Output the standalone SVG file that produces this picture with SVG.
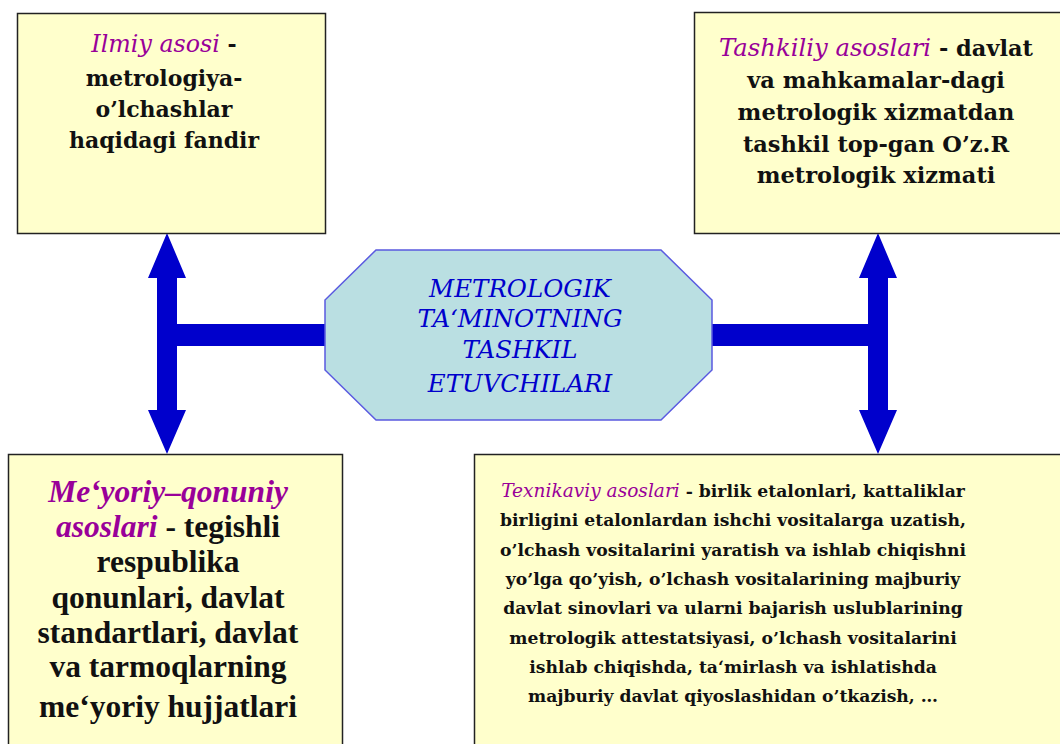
<svg xmlns="http://www.w3.org/2000/svg" width="1060" height="744" viewBox="0 0 1060 744">
  <style>
    .box { fill: #FFFFCC; stroke: #222222; stroke-width: 1.5; }
    .hub { fill: #BADFE2; stroke: #5A5AE0; stroke-width: 1.5; }
    .link { fill: #0000CC; }
    .t { font-family: "DejaVu Serif", "Liberation Serif", serif; font-weight: bold; fill: #111111; text-anchor: middle; }
    .tl { font-size: 22px; }
    .tr { font-size: 22.5px; }
    .br { font-size: 17.2px; }
    .bl { font-family: "Liberation Serif", "DejaVu Serif", serif; font-size: 31.5px; font-weight: bold; fill: #111111; text-anchor: middle; }
    .key { font-style: italic; font-weight: normal; fill: #990099; }
    .big { font-size: 1.08em; }
    .keyb { font-style: italic; font-weight: bold; fill: #990099; }
    .hubtext { font-family: "DejaVu Serif", "Liberation Serif", serif; font-style: italic; font-size: 24.5px; fill: #0000CC; text-anchor: middle; }
  </style>

  <!-- connectors: double-headed vertical arrows joined to the hub by horizontal bars -->
  <g id="connectors">
    <polygon class="link" points="167,233 186,278 177,278 177,410 186,410 167,454 148,410 157,410 157,278 148,278"/>
    <rect class="link" x="176" y="324" width="150" height="22"/>
    <polygon class="link" points="878,233 897,278 888,278 888,410 897,410 878,454 859,410 868,410 868,278 859,278"/>
    <rect class="link" x="711" y="324" width="158" height="22"/>
  </g>

  <!-- central hub -->
  <g id="hub">
    <polygon class="hub" points="376,250 661,250 712,300 712,370 661,420 376,420 325,370 325,300"/>
    <text class="hubtext" x="520" y="297">METROLOGIK</text>
    <text class="hubtext" x="520" y="327">TA‘MINOTNING</text>
    <text class="hubtext" x="520" y="358">TASHKIL</text>
    <text class="hubtext" x="520" y="392">ETUVCHILARI</text>
  </g>

  <!-- scientific basis -->
  <g id="ilmiy">
    <rect class="box" x="17.5" y="13.5" width="308" height="220"/>
    <text class="t tl" x="164" y="52"><tspan class="key big">Ilmiy asosi</tspan> -</text>
    <text class="t tl" x="164" y="86">metrologiya-</text>
    <text class="t tl" x="164" y="117">o’lchashlar</text>
    <text class="t tl" x="164" y="148">haqidagi fandir</text>
  </g>

  <!-- organisational basis -->
  <g id="tashkiliy">
    <rect class="box" x="694.5" y="12.5" width="370" height="221"/>
    <text class="t tr" x="876" y="56"><tspan class="key big">Tashkiliy asoslari</tspan> - davlat</text>
    <text class="t tr" x="876" y="88">va mahkamalar-dagi</text>
    <text class="t tr" x="876" y="120">metrologik xizmatdan</text>
    <text class="t tr" x="876" y="152">tashkil top-gan O’z.R</text>
    <text class="t tr" x="876" y="183">metrologik xizmati</text>
  </g>

  <!-- normative-legal basis -->
  <g id="meyoriy">
    <rect class="box" x="8.5" y="454.5" width="334" height="300"/>
    <text class="bl" x="168" y="502"><tspan class="keyb">Me‘yoriy–qonuniy</tspan></text>
    <text class="bl" x="168" y="537"><tspan class="keyb">asoslari</tspan> - tegishli</text>
    <text class="bl" x="168" y="572">respublika</text>
    <text class="bl" x="168" y="608">qonunlari, davlat</text>
    <text class="bl" x="168" y="643">standartlari, davlat</text>
    <text class="bl" x="168" y="677">va tarmoqlarning</text>
    <text class="bl" x="168" y="717">me‘yoriy hujjatlari</text>
  </g>

  <!-- technical basis -->
  <g id="texnikaviy">
    <rect class="box" x="474.5" y="454.5" width="600" height="300"/>
    <text class="t br" x="733" y="497"><tspan class="key big">Texnikaviy asoslari</tspan> - birlik etalonlari, kattaliklar</text>
    <text class="t br" x="733" y="526">birligini etalonlardan ishchi vositalarga uzatish,</text>
    <text class="t br" x="733" y="556">o’lchash vositalarini yaratish va ishlab chiqishni</text>
    <text class="t br" x="733" y="585">yo’lga qo’yish, o’lchash vositalarining majburiy</text>
    <text class="t br" x="733" y="614">davlat sinovlari va ularni bajarish uslublarining</text>
    <text class="t br" x="733" y="644">metrologik attestatsiyasi, o’lchash vositalarini</text>
    <text class="t br" x="733" y="673">ishlab chiqishda, ta‘mirlash va ishlatishda</text>
    <text class="t br" x="733" y="702">majburiy davlat qiyoslashidan o’tkazish, …</text>
  </g>
</svg>
